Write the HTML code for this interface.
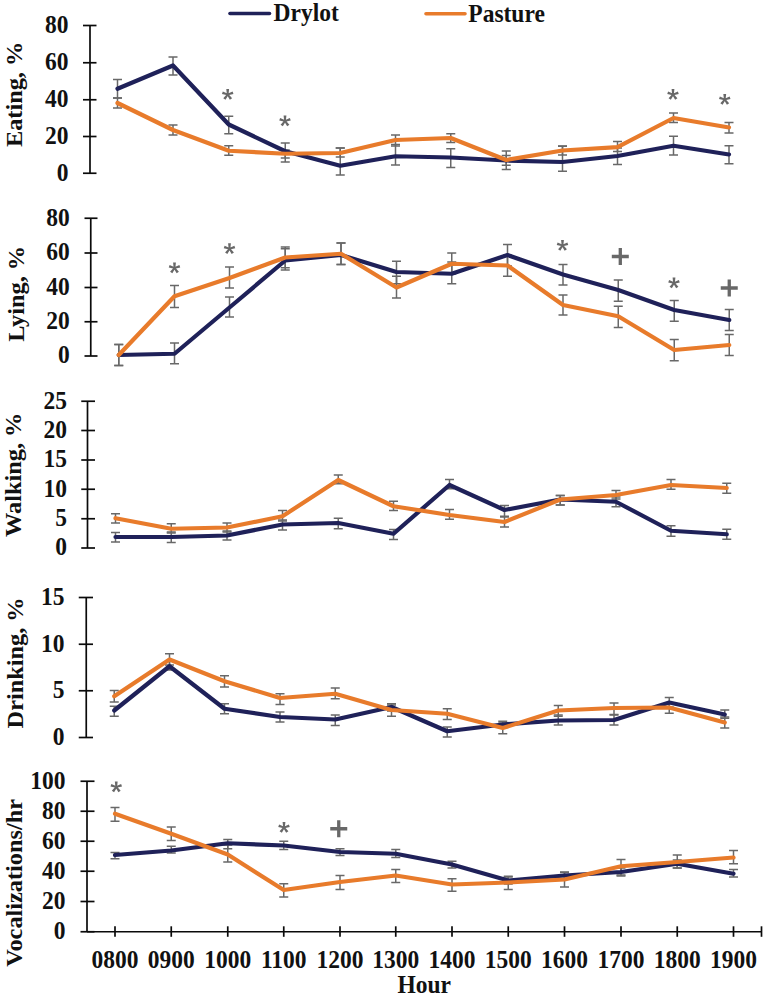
<!DOCTYPE html><html><head><meta charset="utf-8"><style>html,body{margin:0;padding:0;background:#fff;}svg{display:block;}</style></head><body>
<svg width="768" height="998" viewBox="0 0 768 998">
<rect width="768" height="998" fill="#fff"/>
<line x1="230" y1="13.5" x2="269.5" y2="13.5" stroke="#1f2159" stroke-width="3.6" stroke-linecap="round"/>
<text transform="translate(273.6,21.35) scale(1,1.04)" font-family='"Liberation Serif", serif' font-weight="bold" font-size="23.5" fill="#111">Drylot</text>
<line x1="426" y1="13.75" x2="465" y2="13.75" stroke="#e87b2b" stroke-width="3.6" stroke-linecap="round"/>
<text transform="translate(468.3,21.6) scale(1,1.04)" font-family='"Liberation Serif", serif' font-weight="bold" font-size="23.5" fill="#111">Pasture</text>
<line x1="90" y1="25.5" x2="90" y2="173.25" stroke="#0a0a0a" stroke-width="1.7"/><line x1="83" y1="25.5" x2="96.5" y2="25.5" stroke="#0a0a0a" stroke-width="1.7"/><text transform="translate(68.5,32.9) scale(1,1.1)" text-anchor="end" font-family='"Liberation Serif", serif' font-weight="bold" font-size="23.5" fill="#111">80</text><line x1="83" y1="62.75" x2="96.5" y2="62.75" stroke="#0a0a0a" stroke-width="1.7"/><text transform="translate(68.5,70.15) scale(1,1.1)" text-anchor="end" font-family='"Liberation Serif", serif' font-weight="bold" font-size="23.5" fill="#111">60</text><line x1="83" y1="99.75" x2="96.5" y2="99.75" stroke="#0a0a0a" stroke-width="1.7"/><text transform="translate(68.5,107.15) scale(1,1.1)" text-anchor="end" font-family='"Liberation Serif", serif' font-weight="bold" font-size="23.5" fill="#111">40</text><line x1="83" y1="136.5" x2="96.5" y2="136.5" stroke="#0a0a0a" stroke-width="1.7"/><text transform="translate(68.5,143.9) scale(1,1.1)" text-anchor="end" font-family='"Liberation Serif", serif' font-weight="bold" font-size="23.5" fill="#111">20</text><line x1="83" y1="173.25" x2="96.5" y2="173.25" stroke="#0a0a0a" stroke-width="1.7"/><text transform="translate(68.5,180.65) scale(1,1.1)" text-anchor="end" font-family='"Liberation Serif", serif' font-weight="bold" font-size="23.5" fill="#111">0</text><text transform="translate(21.6,94.4) rotate(-90) scale(1.035,1)" text-anchor="middle" font-family='"Liberation Serif", serif' font-weight="bold" font-size="23.5" fill="#111">Eating, %</text><path d="M117.5 79.5V98M113 79.5H122M113 98H122" stroke="#686868" stroke-width="1.5" fill="none"/><path d="M173 57V75M168.5 57H177.5M168.5 75H177.5" stroke="#686868" stroke-width="1.5" fill="none"/><path d="M228.75 116.25V133.75M224.25 116.25H233.25M224.25 133.75H233.25" stroke="#686868" stroke-width="1.5" fill="none"/><path d="M285.25 143V162M280.75 143H289.75M280.75 162H289.75" stroke="#686868" stroke-width="1.5" fill="none"/><path d="M340.25 148V175M335.75 148H344.75M335.75 175H344.75" stroke="#686868" stroke-width="1.5" fill="none"/><path d="M395.5 144.5V165M391 144.5H400M391 165H400" stroke="#686868" stroke-width="1.5" fill="none"/><path d="M450.75 148.75V167.5M446.25 148.75H455.25M446.25 167.5H455.25" stroke="#686868" stroke-width="1.5" fill="none"/><path d="M506.25 155.4V169.4M501.75 155.4H510.75M501.75 169.4H510.75" stroke="#686868" stroke-width="1.5" fill="none"/><path d="M562.5 146.25V171.25M558 146.25H567M558 171.25H567" stroke="#686868" stroke-width="1.5" fill="none"/><path d="M617.5 148V164.6M613 148H622M613 164.6H622" stroke="#686868" stroke-width="1.5" fill="none"/><path d="M673.5 136.25V155M669 136.25H678M669 155H678" stroke="#686868" stroke-width="1.5" fill="none"/><path d="M729 145.75V163.75M724.5 145.75H733.5M724.5 163.75H733.5" stroke="#686868" stroke-width="1.5" fill="none"/><path d="M117.5 98V108M113 98H122M113 108H122" stroke="#686868" stroke-width="1.5" fill="none"/><path d="M173 125V135M168.5 125H177.5M168.5 135H177.5" stroke="#686868" stroke-width="1.5" fill="none"/><path d="M228.75 145.75V155.25M224.25 145.75H233.25M224.25 155.25H233.25" stroke="#686868" stroke-width="1.5" fill="none"/><path d="M285.25 150V158M280.75 150H289.75M280.75 158H289.75" stroke="#686868" stroke-width="1.5" fill="none"/><path d="M340.25 148V157M335.75 148H344.75M335.75 157H344.75" stroke="#686868" stroke-width="1.5" fill="none"/><path d="M395.5 135V146M391 135H400M391 146H400" stroke="#686868" stroke-width="1.5" fill="none"/><path d="M450.75 133.75V142.5M446.25 133.75H455.25M446.25 142.5H455.25" stroke="#686868" stroke-width="1.5" fill="none"/><path d="M506.25 150.9V165.3M501.75 150.9H510.75M501.75 165.3H510.75" stroke="#686868" stroke-width="1.5" fill="none"/><path d="M562.5 146V155M558 146H567M558 155H567" stroke="#686868" stroke-width="1.5" fill="none"/><path d="M617.5 141.5V151.5M613 141.5H622M613 151.5H622" stroke="#686868" stroke-width="1.5" fill="none"/><path d="M673.5 113V122.5M669 113H678M669 122.5H678" stroke="#686868" stroke-width="1.5" fill="none"/><path d="M729 122.5V133M724.5 122.5H733.5M724.5 133H733.5" stroke="#686868" stroke-width="1.5" fill="none"/><polyline points="117.5,88.75 173,65.5 228.75,124.5 285.25,151.25 340.25,165.75 395.5,156.25 450.75,157.5 506.25,160.5 562.5,162 617.5,156 673.5,145.75 729,154.5" fill="none" stroke="#1f2159" stroke-width="4.2" stroke-linejoin="round" stroke-linecap="round"/><polyline points="117.5,103 173,130 228.75,150.75 285.25,153.75 340.25,153 395.5,140 450.75,138 506.25,160 562.5,150.5 617.5,147.2 673.5,118 729,127.5" fill="none" stroke="#e87b2b" stroke-width="4.2" stroke-linejoin="round" stroke-linecap="round"/><circle cx="227.7" cy="94.5" r="1.3" fill="#686868"/><path d="M228.55 94.5L229.1 88.9L226.3 88.9L226.85 94.5ZM227.96 95.31L233.46 94.1L232.59 91.44L227.44 93.69ZM227.01 95L229.86 99.85L232.12 98.21L228.39 94ZM227.01 94L223.28 98.21L225.54 99.85L228.39 95ZM227.96 93.69L222.81 91.44L221.94 94.1L227.44 95.31Z" fill="#686868"/><circle cx="285" cy="121" r="1.3" fill="#686868"/><path d="M285.85 121L286.4 115.4L283.6 115.4L284.15 121ZM285.26 121.81L290.76 120.6L289.89 117.94L284.74 120.19ZM284.31 121.5L287.16 126.35L289.42 124.71L285.69 120.5ZM284.31 120.5L280.58 124.71L282.84 126.35L285.69 121.5ZM285.26 120.19L280.11 117.94L279.24 120.6L284.74 121.81Z" fill="#686868"/><circle cx="673" cy="94.5" r="1.3" fill="#686868"/><path d="M673.85 94.5L674.4 88.9L671.6 88.9L672.15 94.5ZM673.26 95.31L678.76 94.1L677.89 91.44L672.74 93.69ZM672.31 95L675.16 99.85L677.42 98.21L673.69 94ZM672.31 94L668.58 98.21L670.84 99.85L673.69 95ZM673.26 93.69L668.11 91.44L667.24 94.1L672.74 95.31Z" fill="#686868"/><circle cx="724.75" cy="99.5" r="1.3" fill="#686868"/><path d="M725.6 99.5L726.15 93.9L723.35 93.9L723.9 99.5ZM725.01 100.31L730.51 99.1L729.64 96.44L724.49 98.69ZM724.06 100L726.91 104.85L729.17 103.21L725.44 99ZM724.06 99L720.33 103.21L722.59 104.85L725.44 100ZM725.01 98.69L719.86 96.44L718.99 99.1L724.49 100.31Z" fill="#686868"/>
<line x1="90.75" y1="218.25" x2="90.75" y2="356" stroke="#0a0a0a" stroke-width="1.7"/><line x1="84.5" y1="218.25" x2="97.5" y2="218.25" stroke="#0a0a0a" stroke-width="1.7"/><text transform="translate(69.8,225.65) scale(1,1.1)" text-anchor="end" font-family='"Liberation Serif", serif' font-weight="bold" font-size="23.5" fill="#111">80</text><line x1="84.5" y1="253" x2="97.5" y2="253" stroke="#0a0a0a" stroke-width="1.7"/><text transform="translate(69.8,260.4) scale(1,1.1)" text-anchor="end" font-family='"Liberation Serif", serif' font-weight="bold" font-size="23.5" fill="#111">60</text><line x1="84.5" y1="287.5" x2="97.5" y2="287.5" stroke="#0a0a0a" stroke-width="1.7"/><text transform="translate(69.8,294.9) scale(1,1.1)" text-anchor="end" font-family='"Liberation Serif", serif' font-weight="bold" font-size="23.5" fill="#111">40</text><line x1="84.5" y1="321.75" x2="97.5" y2="321.75" stroke="#0a0a0a" stroke-width="1.7"/><text transform="translate(69.8,329.15) scale(1,1.1)" text-anchor="end" font-family='"Liberation Serif", serif' font-weight="bold" font-size="23.5" fill="#111">20</text><line x1="84.5" y1="356" x2="97.5" y2="356" stroke="#0a0a0a" stroke-width="1.7"/><text transform="translate(69.8,363.4) scale(1,1.1)" text-anchor="end" font-family='"Liberation Serif", serif' font-weight="bold" font-size="23.5" fill="#111">0</text><text transform="translate(23.5,293.8) rotate(-90) scale(1.035,1)" text-anchor="middle" font-family='"Liberation Serif", serif' font-weight="bold" font-size="23.5" fill="#111">Lying, %</text><path d="M118.75 344.5V365.5M114.25 344.5H123.25M114.25 365.5H123.25" stroke="#686868" stroke-width="1.5" fill="none"/><path d="M174.5 343V363.75M170 343H179M170 363.75H179" stroke="#686868" stroke-width="1.5" fill="none"/><path d="M229.5 297V317M225 297H234M225 317H234" stroke="#686868" stroke-width="1.5" fill="none"/><path d="M285.25 248.8V270.1M280.75 248.8H289.75M280.75 270.1H289.75" stroke="#686868" stroke-width="1.5" fill="none"/><path d="M341 243V264.6M336.5 243H345.5M336.5 264.6H345.5" stroke="#686868" stroke-width="1.5" fill="none"/><path d="M396.5 261.25V283.75M392 261.25H401M392 283.75H401" stroke="#686868" stroke-width="1.5" fill="none"/><path d="M451.75 262V283.75M447.25 262H456.25M447.25 283.75H456.25" stroke="#686868" stroke-width="1.5" fill="none"/><path d="M507.5 244.5V266M503 244.5H512M503 266H512" stroke="#686868" stroke-width="1.5" fill="none"/><path d="M563 264.5V285M558.5 264.5H567.5M558.5 285H567.5" stroke="#686868" stroke-width="1.5" fill="none"/><path d="M618.25 280V301.25M613.75 280H622.75M613.75 301.25H622.75" stroke="#686868" stroke-width="1.5" fill="none"/><path d="M674.25 300.5V321.25M669.75 300.5H678.75M669.75 321.25H678.75" stroke="#686868" stroke-width="1.5" fill="none"/><path d="M729.25 309.5V330.5M724.75 309.5H733.75M724.75 330.5H733.75" stroke="#686868" stroke-width="1.5" fill="none"/><path d="M118.75 344.5V365.5M114.25 344.5H123.25M114.25 365.5H123.25" stroke="#686868" stroke-width="1.5" fill="none"/><path d="M174.5 285.5V307.5M170 285.5H179M170 307.5H179" stroke="#686868" stroke-width="1.5" fill="none"/><path d="M229.5 267V288M225 267H234M225 288H234" stroke="#686868" stroke-width="1.5" fill="none"/><path d="M285.25 247V267.7M280.75 247H289.75M280.75 267.7H289.75" stroke="#686868" stroke-width="1.5" fill="none"/><path d="M341 243V264.6M336.5 243H345.5M336.5 264.6H345.5" stroke="#686868" stroke-width="1.5" fill="none"/><path d="M396.5 276.25V298M392 276.25H401M392 298H401" stroke="#686868" stroke-width="1.5" fill="none"/><path d="M451.75 253V274M447.25 253H456.25M447.25 274H456.25" stroke="#686868" stroke-width="1.5" fill="none"/><path d="M507.5 255V276.25M503 255H512M503 276.25H512" stroke="#686868" stroke-width="1.5" fill="none"/><path d="M563 295V315M558.5 295H567.5M558.5 315H567.5" stroke="#686868" stroke-width="1.5" fill="none"/><path d="M618.25 306.25V327.5M613.75 306.25H622.75M613.75 327.5H622.75" stroke="#686868" stroke-width="1.5" fill="none"/><path d="M674.25 339.5V360.75M669.75 339.5H678.75M669.75 360.75H678.75" stroke="#686868" stroke-width="1.5" fill="none"/><path d="M729.25 334.5V355.5M724.75 334.5H733.75M724.75 355.5H733.75" stroke="#686868" stroke-width="1.5" fill="none"/><polyline points="118.75,355 174.5,353.75 229.5,307.5 285.25,260.5 341,255 396.5,272 451.75,273.75 507.5,255 563,274.5 618.25,290 674.25,310 729.25,320" fill="none" stroke="#1f2159" stroke-width="4.2" stroke-linejoin="round" stroke-linecap="round"/><polyline points="118.75,355 174.5,296.25 229.5,278 285.25,257.5 341,253.75 396.5,287.5 451.75,263.75 507.5,265.5 563,305 618.25,316.25 674.25,350 729.25,345" fill="none" stroke="#e87b2b" stroke-width="4.2" stroke-linejoin="round" stroke-linecap="round"/><circle cx="174.5" cy="268" r="1.3" fill="#686868"/><path d="M175.35 268L175.9 262.4L173.1 262.4L173.65 268ZM174.76 268.81L180.26 267.6L179.39 264.94L174.24 267.19ZM173.81 268.5L176.66 273.35L178.92 271.71L175.19 267.5ZM173.81 267.5L170.08 271.71L172.34 273.35L175.19 268.5ZM174.76 267.19L169.61 264.94L168.74 267.6L174.24 268.81Z" fill="#686868"/><circle cx="229.5" cy="248.75" r="1.3" fill="#686868"/><path d="M230.35 248.75L230.9 243.15L228.1 243.15L228.65 248.75ZM229.76 249.56L235.26 248.35L234.39 245.69L229.24 247.94ZM228.81 249.25L231.66 254.1L233.92 252.46L230.19 248.25ZM228.81 248.25L225.08 252.46L227.34 254.1L230.19 249.25ZM229.76 247.94L224.61 245.69L223.74 248.35L229.24 249.56Z" fill="#686868"/><circle cx="562.5" cy="245.5" r="1.3" fill="#686868"/><path d="M563.35 245.5L563.9 239.9L561.1 239.9L561.65 245.5ZM562.76 246.31L568.26 245.1L567.39 242.44L562.24 244.69ZM561.81 246L564.66 250.85L566.92 249.21L563.19 245ZM561.81 245L558.08 249.21L560.34 250.85L563.19 246ZM562.76 244.69L557.61 242.44L556.74 245.1L562.24 246.31Z" fill="#686868"/><circle cx="674" cy="283" r="1.3" fill="#686868"/><path d="M674.85 283L675.4 277.4L672.6 277.4L673.15 283ZM674.26 283.81L679.76 282.6L678.89 279.94L673.74 282.19ZM673.31 283.5L676.16 288.35L678.42 286.71L674.69 282.5ZM673.31 282.5L669.58 286.71L671.84 288.35L674.69 283.5ZM674.26 282.19L669.11 279.94L668.24 282.6L673.74 283.81Z" fill="#686868"/><path d="M611.8 256.5H628.8M620.3 248V265" stroke="#686868" stroke-width="3.3" fill="none"/><path d="M720.75 288H737.75M729.25 279.5V296.5" stroke="#686868" stroke-width="3.3" fill="none"/>
<line x1="87.5" y1="401.25" x2="87.5" y2="548" stroke="#0a0a0a" stroke-width="1.7"/><line x1="81.25" y1="401.25" x2="95" y2="401.25" stroke="#0a0a0a" stroke-width="1.7"/><text transform="translate(67,408.65) scale(1,1.1)" text-anchor="end" font-family='"Liberation Serif", serif' font-weight="bold" font-size="23.5" fill="#111">25</text><line x1="81.25" y1="430.5" x2="95" y2="430.5" stroke="#0a0a0a" stroke-width="1.7"/><text transform="translate(67,437.9) scale(1,1.1)" text-anchor="end" font-family='"Liberation Serif", serif' font-weight="bold" font-size="23.5" fill="#111">20</text><line x1="81.25" y1="460" x2="95" y2="460" stroke="#0a0a0a" stroke-width="1.7"/><text transform="translate(67,467.4) scale(1,1.1)" text-anchor="end" font-family='"Liberation Serif", serif' font-weight="bold" font-size="23.5" fill="#111">15</text><line x1="81.25" y1="489.25" x2="95" y2="489.25" stroke="#0a0a0a" stroke-width="1.7"/><text transform="translate(67,496.65) scale(1,1.1)" text-anchor="end" font-family='"Liberation Serif", serif' font-weight="bold" font-size="23.5" fill="#111">10</text><line x1="81.25" y1="518.75" x2="95" y2="518.75" stroke="#0a0a0a" stroke-width="1.7"/><text transform="translate(67,526.15) scale(1,1.1)" text-anchor="end" font-family='"Liberation Serif", serif' font-weight="bold" font-size="23.5" fill="#111">5</text><line x1="81.25" y1="548" x2="95" y2="548" stroke="#0a0a0a" stroke-width="1.7"/><text transform="translate(67,555.4) scale(1,1.1)" text-anchor="end" font-family='"Liberation Serif", serif' font-weight="bold" font-size="23.5" fill="#111">0</text><text transform="translate(21.3,474.8) rotate(-90) scale(1.035,1)" text-anchor="middle" font-family='"Liberation Serif", serif' font-weight="bold" font-size="23.5" fill="#111">Walking, %</text><path d="M115.5 532.5V542M111 532.5H120M111 542H120" stroke="#686868" stroke-width="1.5" fill="none"/><path d="M171.25 532V542.5M166.75 532H175.75M166.75 542.5H175.75" stroke="#686868" stroke-width="1.5" fill="none"/><path d="M227 531V540M222.5 531H231.5M222.5 540H231.5" stroke="#686868" stroke-width="1.5" fill="none"/><path d="M282.5 520V530M278 520H287M278 530H287" stroke="#686868" stroke-width="1.5" fill="none"/><path d="M338.25 518.25V528.75M333.75 518.25H342.75M333.75 528.75H342.75" stroke="#686868" stroke-width="1.5" fill="none"/><path d="M393.5 529.5V539.5M389 529.5H398M389 539.5H398" stroke="#686868" stroke-width="1.5" fill="none"/><path d="M449.5 479.5V488.75M445 479.5H454M445 488.75H454" stroke="#686868" stroke-width="1.5" fill="none"/><path d="M504.5 505.5V516.25M500 505.5H509M500 516.25H509" stroke="#686868" stroke-width="1.5" fill="none"/><path d="M560.25 495.5V505M555.75 495.5H564.75M555.75 505H564.75" stroke="#686868" stroke-width="1.5" fill="none"/><path d="M616 497V506.75M611.5 497H620.5M611.5 506.75H620.5" stroke="#686868" stroke-width="1.5" fill="none"/><path d="M671 525.75V536.25M666.5 525.75H675.5M666.5 536.25H675.5" stroke="#686868" stroke-width="1.5" fill="none"/><path d="M726.75 529.25V539.25M722.25 529.25H731.25M722.25 539.25H731.25" stroke="#686868" stroke-width="1.5" fill="none"/><path d="M115.5 513.75V523M111 513.75H120M111 523H120" stroke="#686868" stroke-width="1.5" fill="none"/><path d="M171.25 523.75V533M166.75 523.75H175.75M166.75 533H175.75" stroke="#686868" stroke-width="1.5" fill="none"/><path d="M227 523V532M222.5 523H231.5M222.5 532H231.5" stroke="#686868" stroke-width="1.5" fill="none"/><path d="M282.5 510.5V521M278 510.5H287M278 521H287" stroke="#686868" stroke-width="1.5" fill="none"/><path d="M338.25 475V483.75M333.75 475H342.75M333.75 483.75H342.75" stroke="#686868" stroke-width="1.5" fill="none"/><path d="M393.5 501.25V510.5M389 501.25H398M389 510.5H398" stroke="#686868" stroke-width="1.5" fill="none"/><path d="M449.5 509.5V519.25M445 509.5H454M445 519.25H454" stroke="#686868" stroke-width="1.5" fill="none"/><path d="M504.5 517V527M500 517H509M500 527H509" stroke="#686868" stroke-width="1.5" fill="none"/><path d="M560.25 495.5V505M555.75 495.5H564.75M555.75 505H564.75" stroke="#686868" stroke-width="1.5" fill="none"/><path d="M616 490.5V499M611.5 490.5H620.5M611.5 499H620.5" stroke="#686868" stroke-width="1.5" fill="none"/><path d="M671 479.5V489.25M666.5 479.5H675.5M666.5 489.25H675.5" stroke="#686868" stroke-width="1.5" fill="none"/><path d="M726.75 483.25V493.25M722.25 483.25H731.25M722.25 493.25H731.25" stroke="#686868" stroke-width="1.5" fill="none"/><polyline points="115.5,537 171.25,537 227,535.5 282.5,524.5 338.25,523 393.5,533.75 449.5,485 504.5,510 560.25,499.5 616,501.75 671,530.75 726.75,534.25" fill="none" stroke="#1f2159" stroke-width="4.2" stroke-linejoin="round" stroke-linecap="round"/><polyline points="115.5,518.25 171.25,528.75 227,527.5 282.5,516.25 338.25,480 393.5,506.25 449.5,515 504.5,522 560.25,499.5 616,495 671,485 726.75,488" fill="none" stroke="#e87b2b" stroke-width="4.2" stroke-linejoin="round" stroke-linecap="round"/>
<line x1="86.25" y1="597.5" x2="86.25" y2="737.5" stroke="#0a0a0a" stroke-width="1.7"/><line x1="78.75" y1="597.5" x2="93" y2="597.5" stroke="#0a0a0a" stroke-width="1.7"/><text transform="translate(64.5,604.9) scale(1,1.1)" text-anchor="end" font-family='"Liberation Serif", serif' font-weight="bold" font-size="23.5" fill="#111">15</text><line x1="78.75" y1="644.25" x2="93" y2="644.25" stroke="#0a0a0a" stroke-width="1.7"/><text transform="translate(64.5,651.65) scale(1,1.1)" text-anchor="end" font-family='"Liberation Serif", serif' font-weight="bold" font-size="23.5" fill="#111">10</text><line x1="78.75" y1="690.75" x2="93" y2="690.75" stroke="#0a0a0a" stroke-width="1.7"/><text transform="translate(64.5,698.15) scale(1,1.1)" text-anchor="end" font-family='"Liberation Serif", serif' font-weight="bold" font-size="23.5" fill="#111">5</text><line x1="78.75" y1="737.5" x2="93" y2="737.5" stroke="#0a0a0a" stroke-width="1.7"/><text transform="translate(64.5,744.9) scale(1,1.1)" text-anchor="end" font-family='"Liberation Serif", serif' font-weight="bold" font-size="23.5" fill="#111">0</text><text transform="translate(22.5,662.9) rotate(-90) scale(1.035,1)" text-anchor="middle" font-family='"Liberation Serif", serif' font-weight="bold" font-size="23.5" fill="#111">Drinking, %</text><path d="M114.25 706.25V716.25M109.75 706.25H118.75M109.75 716.25H118.75" stroke="#686868" stroke-width="1.5" fill="none"/><path d="M169.5 661V670M165 661H174M165 670H174" stroke="#686868" stroke-width="1.5" fill="none"/><path d="M224.5 703.75V713.75M220 703.75H229M220 713.75H229" stroke="#686868" stroke-width="1.5" fill="none"/><path d="M280 712V722M275.5 712H284.5M275.5 722H284.5" stroke="#686868" stroke-width="1.5" fill="none"/><path d="M335.25 715V725.5M330.75 715H339.75M330.75 725.5H339.75" stroke="#686868" stroke-width="1.5" fill="none"/><path d="M391.5 703.75V711M387 703.75H396M387 711H396" stroke="#686868" stroke-width="1.5" fill="none"/><path d="M447.25 727V737M442.75 727H451.75M442.75 737H451.75" stroke="#686868" stroke-width="1.5" fill="none"/><path d="M502.75 721.25V728M498.25 721.25H507.25M498.25 728H507.25" stroke="#686868" stroke-width="1.5" fill="none"/><path d="M558.25 715V725M553.75 715H562.75M553.75 725H562.75" stroke="#686868" stroke-width="1.5" fill="none"/><path d="M614 715V725M609.5 715H618.5M609.5 725H618.5" stroke="#686868" stroke-width="1.5" fill="none"/><path d="M669.25 697.5V707M664.75 697.5H673.75M664.75 707H673.75" stroke="#686868" stroke-width="1.5" fill="none"/><path d="M724.75 710V718.25M720.25 710H729.25M720.25 718.25H729.25" stroke="#686868" stroke-width="1.5" fill="none"/><path d="M114.25 690.5V702M109.75 690.5H118.75M109.75 702H118.75" stroke="#686868" stroke-width="1.5" fill="none"/><path d="M169.5 653.75V665M165 653.75H174M165 665H174" stroke="#686868" stroke-width="1.5" fill="none"/><path d="M224.5 675.75V687M220 675.75H229M220 687H229" stroke="#686868" stroke-width="1.5" fill="none"/><path d="M280 693.75V704.5M275.5 693.75H284.5M275.5 704.5H284.5" stroke="#686868" stroke-width="1.5" fill="none"/><path d="M335.25 688V698.75M330.75 688H339.75M330.75 698.75H339.75" stroke="#686868" stroke-width="1.5" fill="none"/><path d="M391.5 705V716.25M387 705H396M387 716.25H396" stroke="#686868" stroke-width="1.5" fill="none"/><path d="M447.25 708.75V719.5M442.75 708.75H451.75M442.75 719.5H451.75" stroke="#686868" stroke-width="1.5" fill="none"/><path d="M502.75 723V733.75M498.25 723H507.25M498.25 733.75H507.25" stroke="#686868" stroke-width="1.5" fill="none"/><path d="M558.25 705.5V716.25M553.75 705.5H562.75M553.75 716.25H562.75" stroke="#686868" stroke-width="1.5" fill="none"/><path d="M614 703V714.5M609.5 703H618.5M609.5 714.5H618.5" stroke="#686868" stroke-width="1.5" fill="none"/><path d="M669.25 703V713.25M664.75 703H673.75M664.75 713.25H673.75" stroke="#686868" stroke-width="1.5" fill="none"/><path d="M724.75 717V728M720.25 717H729.25M720.25 728H729.25" stroke="#686868" stroke-width="1.5" fill="none"/><polyline points="114.25,710.5 169.5,666.25 224.5,708.75 280,717 335.25,719.5 391.5,707 447.25,731.25 502.75,724.5 558.25,720.5 614,720 669.25,702.5 724.75,714.5" fill="none" stroke="#1f2159" stroke-width="4.2" stroke-linejoin="round" stroke-linecap="round"/><polyline points="114.25,696.25 169.5,659.5 224.5,681.25 280,698 335.25,693.75 391.5,710 447.25,713.75 502.75,728 558.25,710.5 614,708 669.25,707.5 724.75,722.5" fill="none" stroke="#e87b2b" stroke-width="4.2" stroke-linejoin="round" stroke-linecap="round"/>
<line x1="87" y1="781.25" x2="87" y2="931.75" stroke="#0a0a0a" stroke-width="1.7"/><line x1="80.5" y1="781.25" x2="94.5" y2="781.25" stroke="#0a0a0a" stroke-width="1.7"/><text transform="translate(65.5,788.65) scale(1,1.1)" text-anchor="end" font-family='"Liberation Serif", serif' font-weight="bold" font-size="23.5" fill="#111">100</text><line x1="80.5" y1="811.25" x2="94.5" y2="811.25" stroke="#0a0a0a" stroke-width="1.7"/><text transform="translate(65.5,818.65) scale(1,1.1)" text-anchor="end" font-family='"Liberation Serif", serif' font-weight="bold" font-size="23.5" fill="#111">80</text><line x1="80.5" y1="841.25" x2="94.5" y2="841.25" stroke="#0a0a0a" stroke-width="1.7"/><text transform="translate(65.5,848.65) scale(1,1.1)" text-anchor="end" font-family='"Liberation Serif", serif' font-weight="bold" font-size="23.5" fill="#111">60</text><line x1="80.5" y1="871.25" x2="94.5" y2="871.25" stroke="#0a0a0a" stroke-width="1.7"/><text transform="translate(65.5,878.65) scale(1,1.1)" text-anchor="end" font-family='"Liberation Serif", serif' font-weight="bold" font-size="23.5" fill="#111">40</text><line x1="80.5" y1="901.5" x2="94.5" y2="901.5" stroke="#0a0a0a" stroke-width="1.7"/><text transform="translate(65.5,908.9) scale(1,1.1)" text-anchor="end" font-family='"Liberation Serif", serif' font-weight="bold" font-size="23.5" fill="#111">20</text><line x1="80.5" y1="931.75" x2="94.5" y2="931.75" stroke="#0a0a0a" stroke-width="1.7"/><text transform="translate(65.5,939.15) scale(1,1.1)" text-anchor="end" font-family='"Liberation Serif", serif' font-weight="bold" font-size="23.5" fill="#111">0</text><text transform="translate(21.5,882.9) rotate(-90) scale(1.035,1)" text-anchor="middle" font-family='"Liberation Serif", serif' font-weight="bold" font-size="23.5" fill="#111">Vocalizations/hr</text><path d="M115 852.5V858.75M110.5 852.5H119.5M110.5 858.75H119.5" stroke="#686868" stroke-width="1.5" fill="none"/><path d="M171.25 846.25V853M166.75 846.25H175.75M166.75 853H175.75" stroke="#686868" stroke-width="1.5" fill="none"/><path d="M227.75 839.5V848.75M223.25 839.5H232.25M223.25 848.75H232.25" stroke="#686868" stroke-width="1.5" fill="none"/><path d="M283.75 841.25V849.5M279.25 841.25H288.25M279.25 849.5H288.25" stroke="#686868" stroke-width="1.5" fill="none"/><path d="M340 848.75V855.5M335.5 848.75H344.5M335.5 855.5H344.5" stroke="#686868" stroke-width="1.5" fill="none"/><path d="M395.75 849.5V857.5M391.25 849.5H400.25M391.25 857.5H400.25" stroke="#686868" stroke-width="1.5" fill="none"/><path d="M452 861.25V868M447.5 861.25H456.5M447.5 868H456.5" stroke="#686868" stroke-width="1.5" fill="none"/><path d="M508.25 877V884M503.75 877H512.75M503.75 884H512.75" stroke="#686868" stroke-width="1.5" fill="none"/><path d="M564.5 872V879M560 872H569M560 879H569" stroke="#686868" stroke-width="1.5" fill="none"/><path d="M621 868V876M616.5 868H625.5M616.5 876H625.5" stroke="#686868" stroke-width="1.5" fill="none"/><path d="M677.25 860V868M672.75 860H681.75M672.75 868H681.75" stroke="#686868" stroke-width="1.5" fill="none"/><path d="M733.5 869.5V877M729 869.5H738M729 877H738" stroke="#686868" stroke-width="1.5" fill="none"/><path d="M115 807.5V821.25M110.5 807.5H119.5M110.5 821.25H119.5" stroke="#686868" stroke-width="1.5" fill="none"/><path d="M171.25 827V840.5M166.75 827H175.75M166.75 840.5H175.75" stroke="#686868" stroke-width="1.5" fill="none"/><path d="M227.75 845V862M223.25 845H232.25M223.25 862H232.25" stroke="#686868" stroke-width="1.5" fill="none"/><path d="M283.75 883.75V897M279.25 883.75H288.25M279.25 897H288.25" stroke="#686868" stroke-width="1.5" fill="none"/><path d="M340 875.5V889.5M335.5 875.5H344.5M335.5 889.5H344.5" stroke="#686868" stroke-width="1.5" fill="none"/><path d="M395.75 869.5V882.5M391.25 869.5H400.25M391.25 882.5H400.25" stroke="#686868" stroke-width="1.5" fill="none"/><path d="M452 878.75V891.25M447.5 878.75H456.5M447.5 891.25H456.5" stroke="#686868" stroke-width="1.5" fill="none"/><path d="M508.25 876.25V889.5M503.75 876.25H512.75M503.75 889.5H512.75" stroke="#686868" stroke-width="1.5" fill="none"/><path d="M564.5 872.5V887M560 872.5H569M560 887H569" stroke="#686868" stroke-width="1.5" fill="none"/><path d="M621 859.5V875M616.5 859.5H625.5M616.5 875H625.5" stroke="#686868" stroke-width="1.5" fill="none"/><path d="M677.25 855V868M672.75 855H681.75M672.75 868H681.75" stroke="#686868" stroke-width="1.5" fill="none"/><path d="M733.5 850.5V863.75M729 850.5H738M729 863.75H738" stroke="#686868" stroke-width="1.5" fill="none"/><polyline points="115,855 171.25,850.5 227.75,843.25 283.75,845.5 340,852 395.75,853.75 452,864.5 508.25,880.5 564.5,875.5 621,872 677.25,863.75 733.5,873.75" fill="none" stroke="#1f2159" stroke-width="4.2" stroke-linejoin="round" stroke-linecap="round"/><polyline points="115,813.75 171.25,833.75 227.75,854.5 283.75,890 340,882 395.75,875.5 452,884.5 508.25,882.5 564.5,879.5 621,866.25 677.25,862 733.5,857.5" fill="none" stroke="#e87b2b" stroke-width="4.2" stroke-linejoin="round" stroke-linecap="round"/><circle cx="116.25" cy="787" r="1.3" fill="#686868"/><path d="M117.1 787L117.65 781.4L114.85 781.4L115.4 787ZM116.51 787.81L122.01 786.6L121.14 783.94L115.99 786.19ZM115.56 787.5L118.41 792.35L120.67 790.71L116.94 786.5ZM115.56 786.5L111.83 790.71L114.09 792.35L116.94 787.5ZM116.51 786.19L111.36 783.94L110.49 786.6L115.99 787.81Z" fill="#686868"/><circle cx="284" cy="827.5" r="1.3" fill="#686868"/><path d="M284.85 827.5L285.4 821.9L282.6 821.9L283.15 827.5ZM284.26 828.31L289.76 827.1L288.89 824.44L283.74 826.69ZM283.31 828L286.16 832.85L288.42 831.21L284.69 827ZM283.31 827L279.58 831.21L281.84 832.85L284.69 828ZM284.26 826.69L279.11 824.44L278.24 827.1L283.74 828.31Z" fill="#686868"/><path d="M330.25 828.75H347.25M338.75 820.25V837.25" stroke="#686868" stroke-width="3.3" fill="none"/>
<line x1="87" y1="931.75" x2="761.5" y2="931.75" stroke="#0a0a0a" stroke-width="1.7"/>
<line x1="115" y1="926.3" x2="115" y2="936.8" stroke="#0a0a0a" stroke-width="1.7"/>
<line x1="171.25" y1="926.3" x2="171.25" y2="936.8" stroke="#0a0a0a" stroke-width="1.7"/>
<line x1="227.75" y1="926.3" x2="227.75" y2="936.8" stroke="#0a0a0a" stroke-width="1.7"/>
<line x1="283.75" y1="926.3" x2="283.75" y2="936.8" stroke="#0a0a0a" stroke-width="1.7"/>
<line x1="340" y1="926.3" x2="340" y2="936.8" stroke="#0a0a0a" stroke-width="1.7"/>
<line x1="395.75" y1="926.3" x2="395.75" y2="936.8" stroke="#0a0a0a" stroke-width="1.7"/>
<line x1="452" y1="926.3" x2="452" y2="936.8" stroke="#0a0a0a" stroke-width="1.7"/>
<line x1="508.25" y1="926.3" x2="508.25" y2="936.8" stroke="#0a0a0a" stroke-width="1.7"/>
<line x1="564.5" y1="926.3" x2="564.5" y2="936.8" stroke="#0a0a0a" stroke-width="1.7"/>
<line x1="621" y1="926.3" x2="621" y2="936.8" stroke="#0a0a0a" stroke-width="1.7"/>
<line x1="677.25" y1="926.3" x2="677.25" y2="936.8" stroke="#0a0a0a" stroke-width="1.7"/>
<line x1="733.5" y1="926.3" x2="733.5" y2="936.8" stroke="#0a0a0a" stroke-width="1.7"/>
<line x1="761.5" y1="926.3" x2="761.5" y2="936.8" stroke="#0a0a0a" stroke-width="1.7"/>
<text transform="translate(115,968) scale(1,1.1)" text-anchor="middle" font-family='"Liberation Serif", serif' font-weight="bold" font-size="23.5" fill="#111">0800</text>
<text transform="translate(171.25,968) scale(1,1.1)" text-anchor="middle" font-family='"Liberation Serif", serif' font-weight="bold" font-size="23.5" fill="#111">0900</text>
<text transform="translate(227.75,968) scale(1,1.1)" text-anchor="middle" font-family='"Liberation Serif", serif' font-weight="bold" font-size="23.5" fill="#111">1000</text>
<text transform="translate(283.75,968) scale(1,1.1)" text-anchor="middle" font-family='"Liberation Serif", serif' font-weight="bold" font-size="23.5" fill="#111">1100</text>
<text transform="translate(340,968) scale(1,1.1)" text-anchor="middle" font-family='"Liberation Serif", serif' font-weight="bold" font-size="23.5" fill="#111">1200</text>
<text transform="translate(395.75,968) scale(1,1.1)" text-anchor="middle" font-family='"Liberation Serif", serif' font-weight="bold" font-size="23.5" fill="#111">1300</text>
<text transform="translate(452,968) scale(1,1.1)" text-anchor="middle" font-family='"Liberation Serif", serif' font-weight="bold" font-size="23.5" fill="#111">1400</text>
<text transform="translate(508.25,968) scale(1,1.1)" text-anchor="middle" font-family='"Liberation Serif", serif' font-weight="bold" font-size="23.5" fill="#111">1500</text>
<text transform="translate(564.5,968) scale(1,1.1)" text-anchor="middle" font-family='"Liberation Serif", serif' font-weight="bold" font-size="23.5" fill="#111">1600</text>
<text transform="translate(621,968) scale(1,1.1)" text-anchor="middle" font-family='"Liberation Serif", serif' font-weight="bold" font-size="23.5" fill="#111">1700</text>
<text transform="translate(677.25,968) scale(1,1.1)" text-anchor="middle" font-family='"Liberation Serif", serif' font-weight="bold" font-size="23.5" fill="#111">1800</text>
<text transform="translate(733.5,968) scale(1,1.1)" text-anchor="middle" font-family='"Liberation Serif", serif' font-weight="bold" font-size="23.5" fill="#111">1900</text>
<text transform="translate(424.2,993.1) scale(1,1.04)" text-anchor="middle" font-family='"Liberation Serif", serif' font-weight="bold" font-size="23.5" fill="#111">Hour</text>
</svg></body></html>
